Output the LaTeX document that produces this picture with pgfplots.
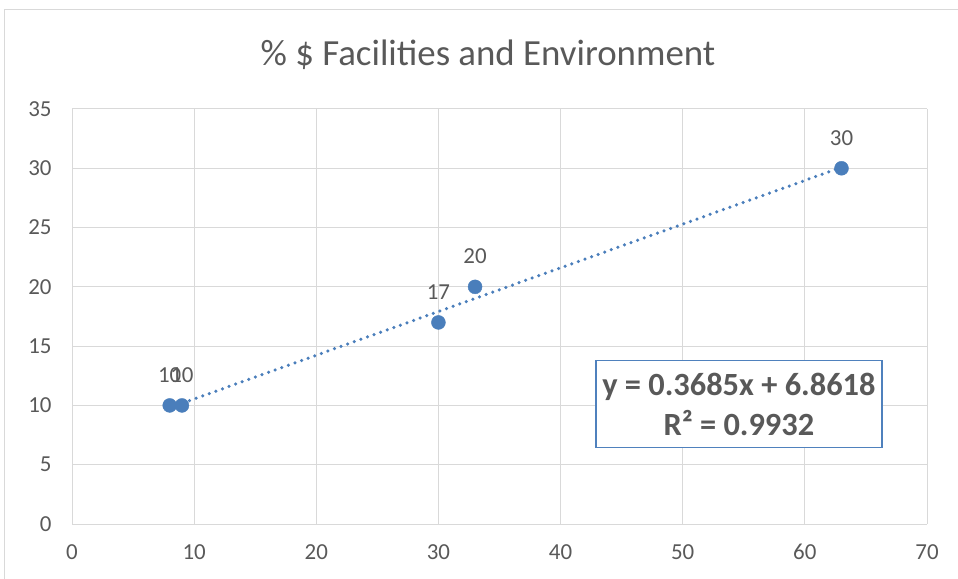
\documentclass[border=0pt]{standalone}
\usepackage{fontspec}
\setmainfont{Carlito}
\usepackage{pgfplots}
\pgfplotsset{compat=1.18}
\definecolor{txt}{HTML}{595959}
\definecolor{grd}{HTML}{D9D9D9}
\definecolor{dot}{HTML}{4A7EBB}
\definecolor{boxc}{HTML}{4F81BD}
\begin{document}
\begin{tikzpicture}
\useasboundingbox (-72bp,-55bp) rectangle (886bp,524bp);
\draw[grd, line width=1bp] (-67bp,-55bp) -- (-67bp,514bp) -- (886bp,514bp);
\begin{axis}[
  at={(0,0)}, anchor=south west,
  scale only axis, width=855bp, height=415bp,
  xmin=0, xmax=70, ymin=0, ymax=35,
  xtick distance=10, ytick distance=5,
  grid=major, major grid style={grd, line width=1bp},
  axis line style={draw=none},
  tick style={draw=none},
  ticklabel style={font=\fontsize{23}{27}\selectfont, text=txt},
  /pgf/number format/assume math mode=true,
  yticklabel style={xshift=-17bp},
  xticklabel style={yshift=-17bp},
  clip=false,
]
\addplot[only marks, mark=*, mark size=7bp, dot, mark options={draw=dot, fill=dot},
  nodes near coords, point meta=explicit symbolic,
  every node near coord/.style={font=\fontsize{23}{27}\selectfont, text=txt, anchor=base, inner sep=0pt, yshift=23bp}]
  table[meta=label] {
x y label
8 10 10
9 10 10
30 17 17
33 20 20
63 30 30
};
\addplot[dot, line width=3.5bp, line cap=round, dash pattern=on 0pt off 7bp] coordinates {(8,9.81) (63,30.08)};
\node[draw=boxc, line width=1.5bp, fill=white, minimum width=286bp, minimum height=87bp,
  align=center, text=txt, font=\bfseries\fontsize{32.5}{40}\selectfont] at (axis cs:54.6,10.1)
  {y = 0.3685x + 6.8618\\R² = 0.9932};
\end{axis}
\node[font=\fontsize{37}{44}\selectfont, text=txt] at (416bp,469bp) {\% \$ Facilities and Environment};
\end{tikzpicture}
\end{document}
